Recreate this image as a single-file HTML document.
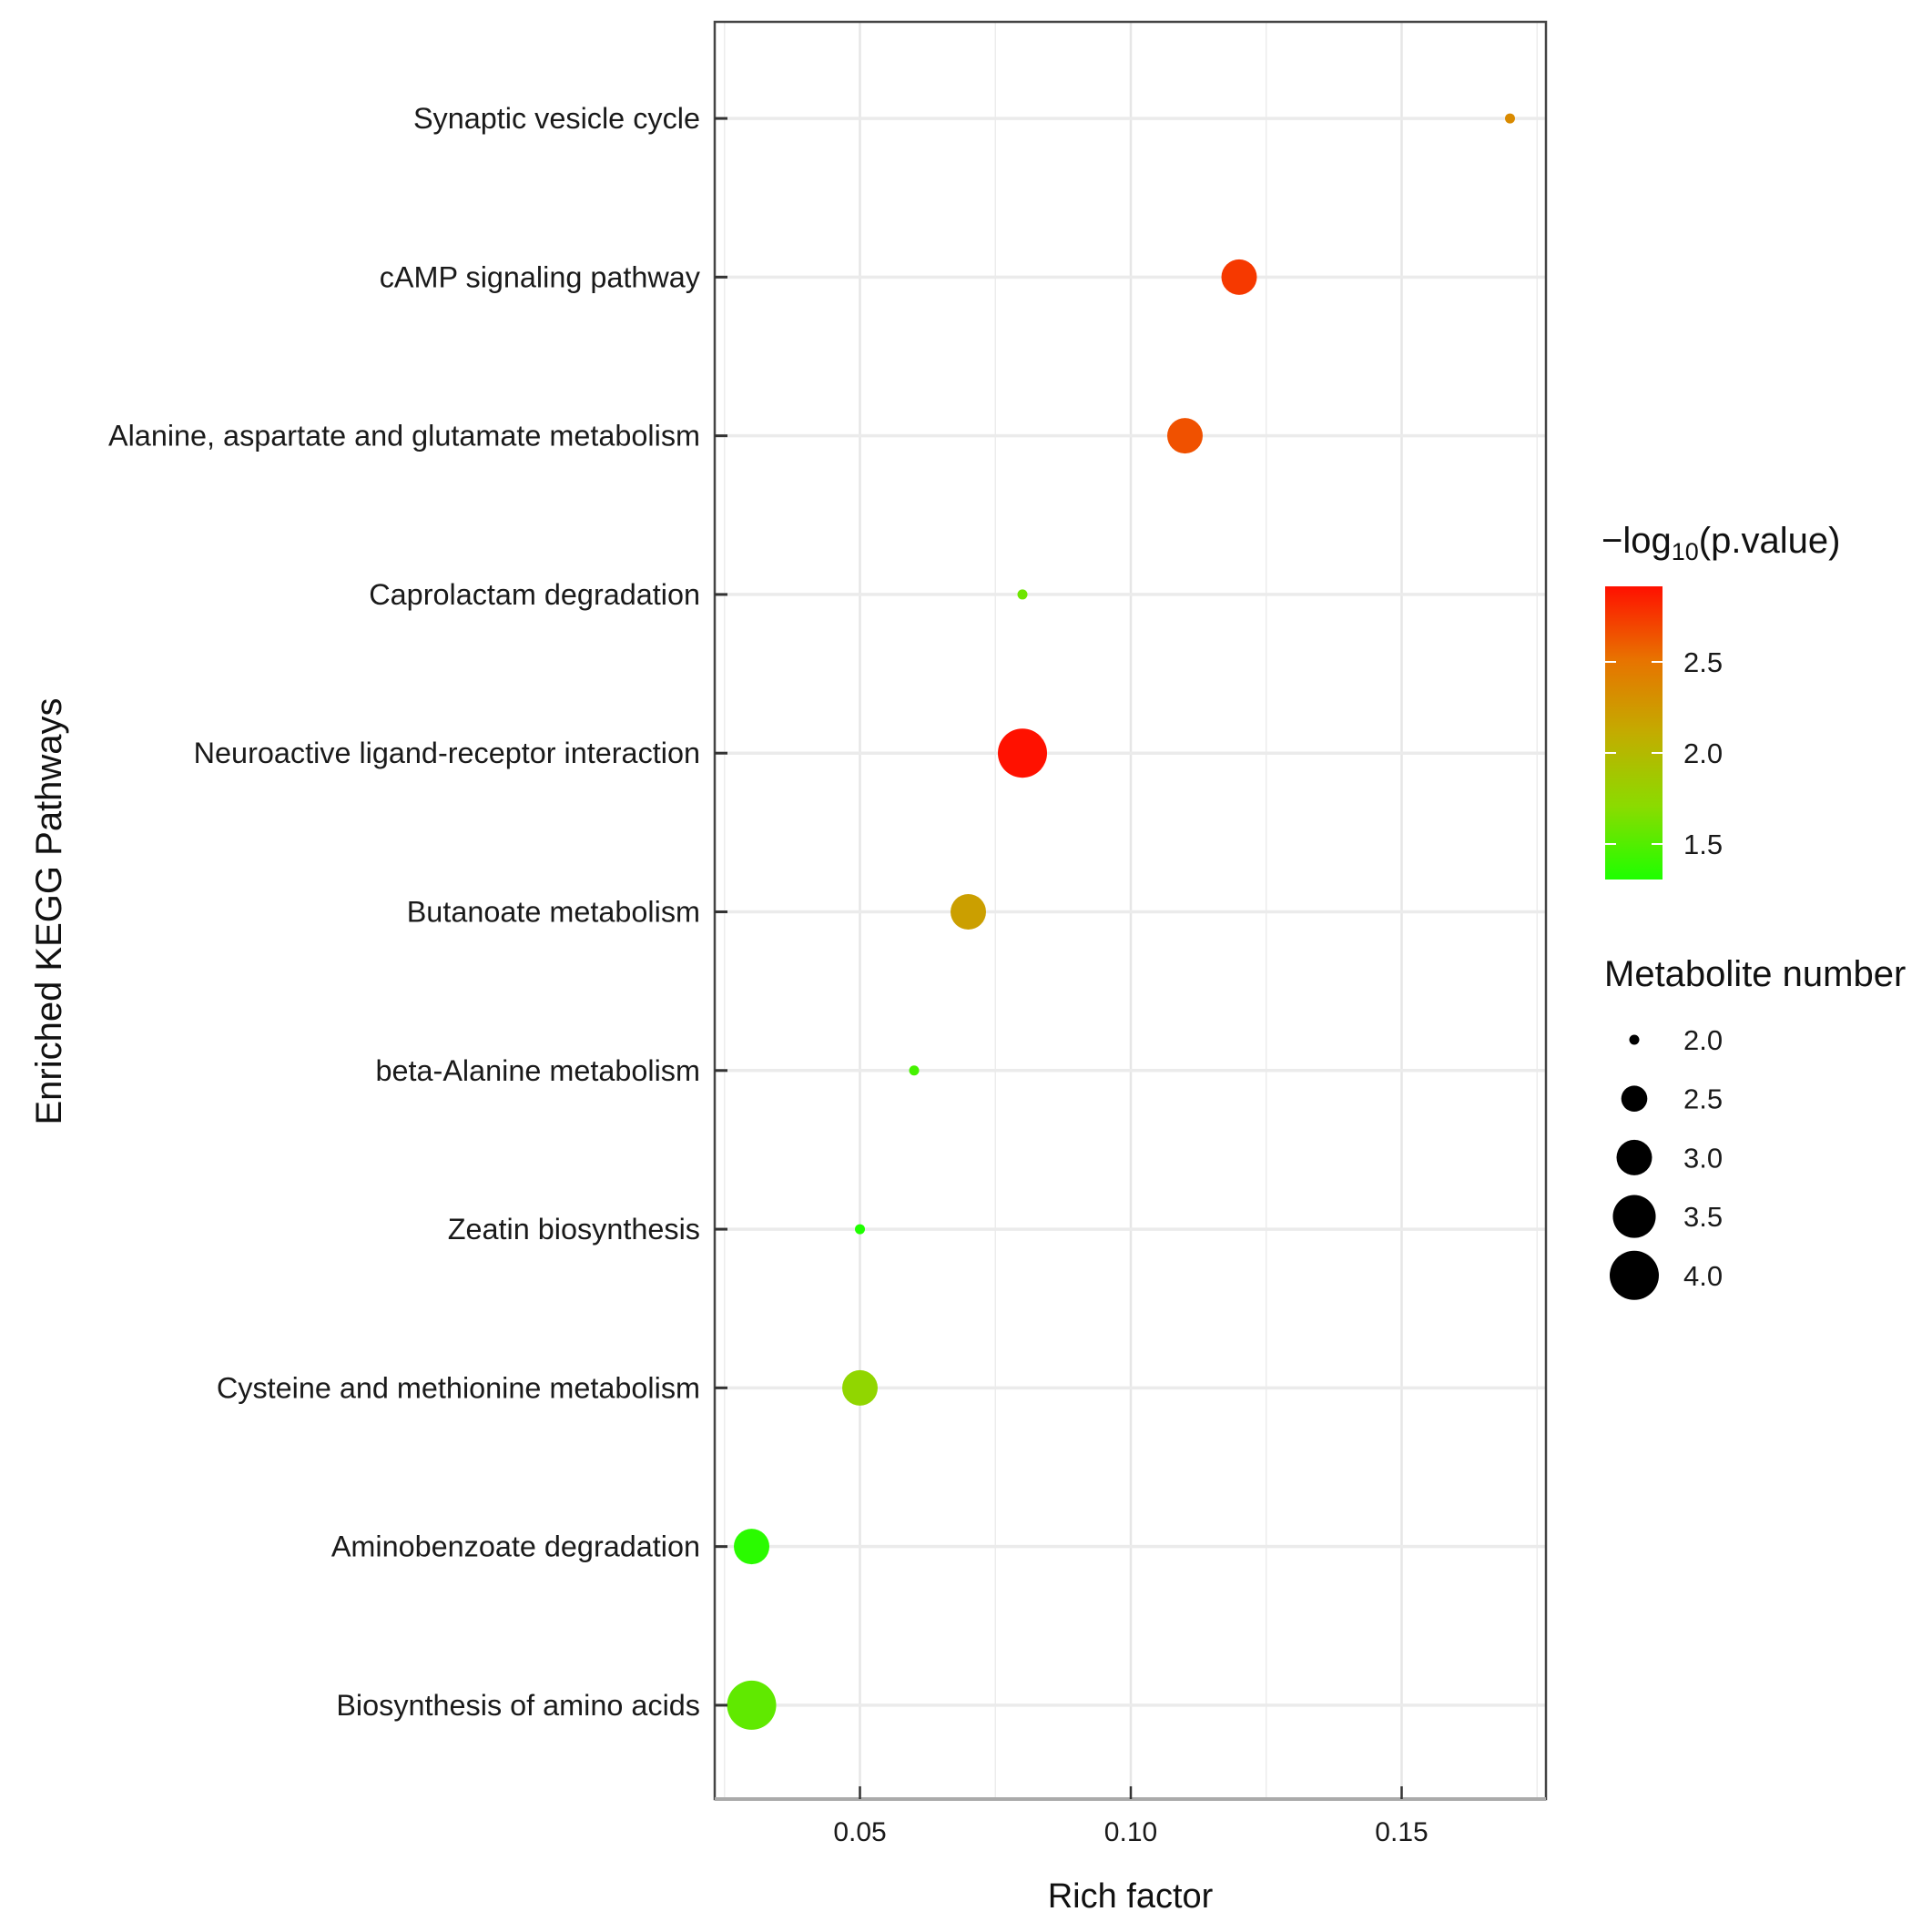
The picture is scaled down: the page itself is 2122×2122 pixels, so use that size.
<!DOCTYPE html>
<html><head><meta charset="utf-8"><style>
html,body{margin:0;padding:0;background:#fff;}
svg{display:block;font-family:"Liberation Sans",Arial,sans-serif;}
</style></head><body>
<svg id="chart" width="2122" height="2122" viewBox="0 0 2122 2122" xmlns="http://www.w3.org/2000/svg">
<defs>
<linearGradient id="cbar" x1="0" y1="1" x2="0" y2="0">
<stop offset="0" stop-color="#1EFF00"/>
<stop offset="0.25" stop-color="#8BDB00"/>
<stop offset="0.5" stop-color="#C3AC00"/>
<stop offset="0.75" stop-color="#E87300"/>
<stop offset="1" stop-color="#FF1000"/>
</linearGradient>
</defs>
<g id="grid"></g>
<g id="marks"></g>
<g id="axes"></g>
<g id="legend"></g>
</svg>
<script>
const categories = ["Synaptic vesicle cycle","cAMP signaling pathway","Alanine, aspartate and glutamate metabolism","Caprolactam degradation","Neuroactive ligand-receptor interaction","Butanoate metabolism","beta-Alanine metabolism","Zeatin biosynthesis","Cysteine and methionine metabolism","Aminobenzoate degradation","Biosynthesis of amino acids"];
const richFactor = [0.17,0.12,0.11,0.08,0.08,0.07,0.06,0.05,0.05,0.03,0.03];
const metaboliteNumber = [2,3,3,2,4,3,2,2,3,3,4];
const negLogP = [2.35,2.75,2.65,1.6,2.91,2.2,1.45,1.31,1.75,1.35,1.55];
const xTicks = [0.05,0.10,0.15];
const xTickLabels = ["0.05","0.10","0.15"];
const colorTicks = [1.5,2.0,2.5];
const colorTickLabels = ["1.5","2.0","2.5"];
const sizeLegendValues = [2.0,2.5,3.0,3.5,4.0];
const sizeLegendLabels = ["2.0","2.5","3.0","3.5","4.0"];

const NS="http://www.w3.org/2000/svg";
const P={l:785,r:1698,t:24,b:1976};
const xMin=0.02319, xMax=0.17664;
function xS(v){return P.l+(v-xMin)/(xMax-xMin)*(P.r-P.l);}
const n=categories.length;
const step=(P.b-P.t)/(n-1+1.2);
function yS(i){return P.t+step*(0.6+i)+1.5;}
const sMin=2,sMax=4,rMin=5.5,rMax=27;
function rS(v){const t=(v-sMin)/(sMax-sMin);return Math.sqrt(rMin*rMin+t*(rMax*rMax-rMin*rMin));}
const cMin=1.305,cMax=2.915;
const stops=[[0,[30,255,0]],[0.25,[139,219,0]],[0.5,[195,172,0]],[0.75,[232,115,0]],[1,[255,16,0]]];
function cS(v){let t=Math.max(0,Math.min(1,(v-cMin)/(cMax-cMin)));
 for(let k=0;k<stops.length-1;k++){const a=stops[k],b=stops[k+1];if(t<=b[0]){const u=(t-a[0])/(b[0]-a[0]);return "rgb("+a[1].map((c,j)=>Math.round(c+(b[1][j]-c)*u)).join(",")+")";}}
 return "rgb(255,16,0)";}
function mk(tag,attrs,parent,text){const e=document.createElementNS(NS,tag);for(const k in attrs)e.setAttribute(k,attrs[k]);if(text!=null)e.textContent=text;parent.appendChild(e);return e;}

const grid=document.getElementById('grid'),marks=document.getElementById('marks'),axes=document.getElementById('axes'),legend=document.getElementById('legend');
for(let v=0.025;v<xMax;v+=0.05){const l=mk('line',{x1:xS(v),x2:xS(v),y1:P.t,y2:P.b,stroke:'#ececec','stroke-width':1.5},grid);

}
xTicks.forEach(v=>{const l=mk('line',{x1:xS(v),x2:xS(v),y1:P.t,y2:P.b,stroke:'#e6e6e6','stroke-width':2.5},grid);

});
categories.forEach((c,i)=>{const l=mk('line',{x1:P.l,x2:P.r,y1:yS(i),y2:yS(i),stroke:'#ebebeb','stroke-width':3.5},grid);

});
categories.forEach((c,i)=>{const e=mk('circle',{cx:xS(richFactor[i]),cy:yS(i),r:rS(metaboliteNumber[i]),fill:cS(negLogP[i])},marks);

});
const bd=mk('rect',{x:P.l,y:P.t,width:P.r-P.l,height:P.b-P.t,fill:'none',stroke:'#444','stroke-width':2.5},axes);


const bb=mk('line',{x1:P.l,x2:P.r,y1:P.b,y2:P.b,stroke:'#aaa','stroke-width':4},axes);


categories.forEach((c,i)=>{const tk=mk('line',{x1:P.l,x2:P.l+14,y1:yS(i),y2:yS(i),stroke:'#333','stroke-width':3},axes);


const t=mk('text',{x:769,y:yS(i)+11,'text-anchor':'end','font-size':32.4,fill:'#1a1a1a'},axes,c);

});
xTicks.forEach((v,i)=>{const tk=mk('line',{x1:xS(v),x2:xS(v),y1:P.b-14,y2:P.b,stroke:'#333','stroke-width':2.5},axes);


const t=mk('text',{x:xS(v),y:2022,'text-anchor':'middle','font-size':30,fill:'#1a1a1a'},axes,xTickLabels[i]);

});
const xt=mk('text',{x:(P.l+P.r)/2,y:2095,'text-anchor':'middle','font-size':38,fill:'#111'},axes,'Rich factor');


const yt=mk('text',{x:0,y:0,'text-anchor':'middle','font-size':40,fill:'#111',transform:'translate(67,1001) rotate(-90)'},axes,'Enriched KEGG Pathways');


const ct=mk('text',{x:1759,y:607,'font-size':40,fill:'#111'},legend);


mk('tspan',{},ct,'\u2212log');mk('tspan',{'font-size':27,dy:8},ct,'10');mk('tspan',{dy:-8},ct,'(p.value)');
const cb={x:1763,w:63,t:644,b:966};
const cr=mk('rect',{x:cb.x,y:cb.t,width:cb.w,height:cb.b-cb.t,fill:'url(#cbar)'},legend);


function cY(v){return cb.b-(v-cMin)/(cMax-cMin)*(cb.b-cb.t);}
colorTicks.forEach((v,i)=>{const y=cY(v);
mk('line',{x1:cb.x,x2:cb.x+12,y1:y,y2:y,stroke:'#fff','stroke-width':2},legend);
mk('line',{x1:cb.x+cb.w-12,x2:cb.x+cb.w,y1:y,y2:y,stroke:'#fff','stroke-width':2},legend);
const t=mk('text',{x:1849,y:y+11,'font-size':31,fill:'#1a1a1a'},legend,colorTickLabels[i]);

});
const st=mk('text',{x:1762,y:1083,'font-size':40,fill:'#111'},legend,'Metabolite number');


sizeLegendValues.forEach((v,i)=>{const y=1142+i*64.7;
const c=mk('circle',{cx:1795,cy:y,r:rS(v),fill:'#000'},legend);


const t=mk('text',{x:1849,y:y+11,'font-size':31,fill:'#1a1a1a'},legend,sizeLegendLabels[i]);

});
</script>
</body></html>
